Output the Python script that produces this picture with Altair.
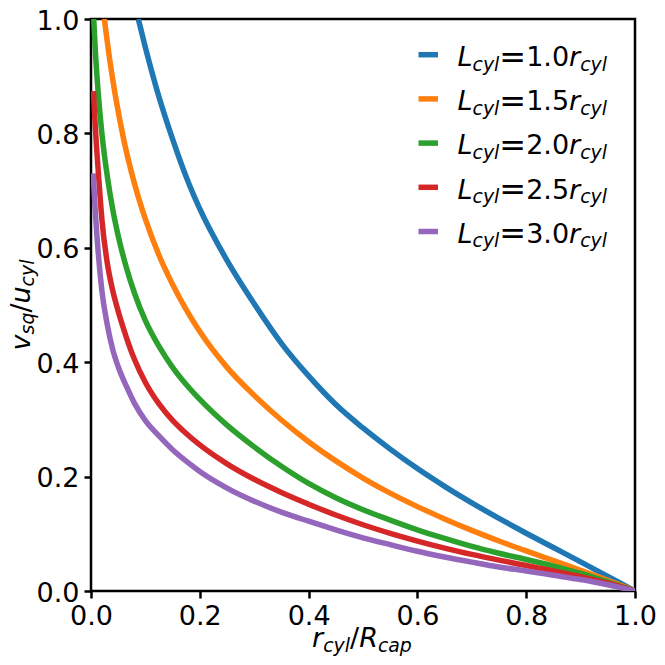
import altair as alt
import pandas as pd

# ---------------- data ----------------
series = ["L=1.0", "L=1.5", "L=2.0", "L=2.5", "L=3.0"]
ratios = ["1.0", "1.5", "2.0", "2.5", "3.0"]
colors = ["#1f77b4", "#ff7f0e", "#2ca02c", "#d62728", "#9467bd"]

x_blue = [0.087, 0.10, 0.12, 0.15, 0.18, 0.20, 0.25, 0.30, 0.35, 0.40, 0.45, 0.50,
          0.55, 0.60, 0.65, 0.70, 0.75, 0.80, 0.85, 0.90, 0.95, 1.00]
y_blue = [1.000, 0.950, 0.880, 0.790, 0.712, 0.668, 0.578, 0.502, 0.433, 0.376, 0.326, 0.285,
          0.248, 0.214, 0.183, 0.154, 0.127, 0.101, 0.076, 0.051, 0.0255, 0.000]

x_orange = [0.0245, 0.035, 0.045, 0.06, 0.08, 0.10, 0.125, 0.15, 0.175, 0.20, 0.25, 0.30, 0.35,
            0.40, 0.45, 0.50, 0.55, 0.60, 0.65, 0.70, 0.75, 0.80, 0.85, 0.90, 0.95, 1.00]
y_orange = [1.000, 0.925, 0.865, 0.790, 0.712, 0.650, 0.587, 0.536, 0.492, 0.4535, 0.391, 0.342, 0.299,
            0.261, 0.2275, 0.1975, 0.171, 0.1475, 0.126, 0.106, 0.0875, 0.070, 0.053, 0.036, 0.0185, 0.000]

x_green = [0.005, 0.008, 0.013, 0.02, 0.03, 0.04, 0.05, 0.065, 0.08, 0.10, 0.125, 0.15, 0.175, 0.20,
           0.25, 0.30, 0.35, 0.40, 0.45, 0.50, 0.55, 0.60, 0.65, 0.70, 0.75, 0.80, 0.85, 0.90, 0.95, 1.00]
y_green = [1.000, 0.944, 0.874, 0.800, 0.725, 0.667, 0.621, 0.5655, 0.5205, 0.4725, 0.4275, 0.391, 0.361, 0.335,
           0.290, 0.252, 0.218, 0.188, 0.163, 0.142, 0.124, 0.107, 0.092, 0.078, 0.066, 0.055, 0.0435, 0.031, 0.016, 0.000]

x_red = [0.0045, 0.007, 0.01, 0.015, 0.02, 0.03, 0.04, 0.05, 0.065, 0.08, 0.10, 0.125, 0.15, 0.175, 0.20,
         0.25, 0.30, 0.35, 0.40, 0.45, 0.50, 0.55, 0.60, 0.65, 0.70, 0.75, 0.80, 0.85, 0.90, 0.95, 1.00]
y_red = [0.874, 0.827, 0.779, 0.7116, 0.650, 0.573, 0.525, 0.489, 0.4436, 0.4046, 0.3646, 0.3271, 0.2983, 0.2753, 0.2553,
         0.2223, 0.1953, 0.1723, 0.1518, 0.1328, 0.1158, 0.1008, 0.0873, 0.075, 0.064, 0.054, 0.0445, 0.035, 0.025, 0.0135, 0.000]

x_purple = [0.004, 0.008, 0.013, 0.02, 0.03, 0.04, 0.05, 0.065, 0.08, 0.10, 0.125, 0.15, 0.175, 0.20,
            0.25, 0.30, 0.35, 0.40, 0.45, 0.50, 0.55, 0.60, 0.65, 0.70, 0.75, 0.80, 0.85, 0.90, 0.95, 1.00]
y_purple = [0.730, 0.662, 0.595, 0.525, 0.465, 0.422, 0.392, 0.358, 0.328, 0.298, 0.271, 0.247, 0.227, 0.209,
            0.180, 0.157, 0.138, 0.122, 0.107, 0.093, 0.081, 0.0695, 0.0595, 0.0505, 0.042, 0.035, 0.0275, 0.020, 0.011, 0.000]

x_ticks = [0.0, 0.2, 0.4, 0.6, 0.8, 1.0]
y_ticks = [0.0, 0.2, 0.4, 0.6, 0.8, 1.0]

rows = []
for name, xs, ys in zip(series,
                        [x_blue, x_orange, x_green, x_red, x_purple],
                        [y_blue, y_orange, y_green, y_red, y_purple]):
    for i, (a, b) in enumerate(zip(xs, ys)):
        rows.append({"series": name, "order": i, "x": a, "y": b})
df = pd.DataFrame(rows)

# ---------------- layout ----------------
W, H = 544, 572
PAD = {"left": 83, "top": 11, "right": 22, "bottom": 66}
FONT = "DejaVu Sans"
F_AX = 27
F_LEG = 27
F_EQ = 32
SUB = 0.7
SUB_SHIFT = 4.5
LW = 5.5

# DejaVu Sans advance widths (em)
W_EM = {"L": 0.5571, "c": 0.5498, "y": 0.5918, "l": 0.2778, "=": 0.8379,
        "0": 0.6362, "1": 0.6362, "2": 0.6362, "3": 0.6362, "5": 0.6362,
        ".": 0.3179, "r": 0.4111, "v": 0.5918, "s": 0.5210, "q": 0.6348,
        "/": 0.3369, "u": 0.6338, "R": 0.6948, "a": 0.6128, "p": 0.6348}


def tw(s, size):
    return sum(W_EM.get(ch, 0.6) for ch in s) * size


def math_pieces(parts, F):
    out, pos = [], 0.0
    for text, kind in parts:
        if kind == "space":
            pos += text * F
            continue
        if kind == "sub":
            size, shift, style = F * SUB, SUB_SHIFT, "italic"
        elif kind == "eq":
            size, shift, style = F_EQ, 1.5, "normal"
        elif kind == "rm":
            size, shift, style = F, 0.0, "normal"
        else:
            size, shift, style = F, 0.0, "italic"
        out.append((text, pos, shift, size, style))
        pos += tw(text, size)
    return out, pos


def text_layer(t, x, y, size, style, angle=0):
    return alt.Chart(pd.DataFrame({"t": [t]})).mark_text(
        align="left", baseline="alphabetic", font=FONT, fontSize=size,
        fontStyle=style, color="black", angle=angle
    ).encode(x=alt.value(x), y=alt.value(y), text="t:N")


color_scale = alt.Scale(domain=series, range=colors)

lines = alt.Chart(df).mark_line(
    strokeWidth=LW, clip=True, strokeCap="butt", interpolate="monotone"
).encode(
    x=alt.X("x:Q", scale=alt.Scale(domain=[0, 1], nice=False),
            axis=alt.Axis(values=x_ticks, format=".1f", title="", labelFlush=False,
                          labelOverlap=False, labelPadding=5)),
    y=alt.Y("y:Q", scale=alt.Scale(domain=[0, 1], nice=False),
            axis=alt.Axis(values=y_ticks, format=".1f", title="", labelOverlap=False,
                          labelPadding=5, labelOffset=2)),
    color=alt.Color("series:N", scale=color_scale, legend=None),
    order="order:Q",
)

layers = [lines]

# x-axis title  r_cyl / R_cap
xparts = [("r", "it"), ("cyl", "sub"), ("/", "rm"), ("R", "it"), ("cap", "sub")]
pcs, total = math_pieces(xparts, F_AX)
x0 = W / 2 - total / 2 - 1
base = 628
for t, dx, dy, size, style in pcs:
    layers.append(text_layer(t, x0 + dx, base + dy, size, style))

# y-axis title  v_sq / u_cyl (rotated)
yparts = [("v", "it"), ("sq", "sub"), ("/", "rm"), ("u", "it"), ("cyl", "sub")]
pcs, total = math_pieces(yparts, F_AX)
ybase_x = -61.5
ystart = 286 + total / 2
for t, dx, dy, size, style in pcs:
    layers.append(text_layer(t, ybase_x + dy, ystart - dx, size, style, angle=270))

# legend
for i, (name, ratio) in enumerate(zip(series, ratios)):
    yc = 35.7 + 44.2 * i
    sw = alt.Chart(pd.DataFrame({"series": [name]})).mark_rule(
        strokeWidth=LW, strokeCap="butt"
    ).encode(
        x=alt.value(327.5), x2=alt.value(347.0), y=alt.value(yc),
        color=alt.Color("series:N", scale=color_scale, legend=None),
    )
    layers.append(sw)
    lparts = [("L", "it"), ("cyl", "sub"), ("=", "eq"),
              (ratio, "rm"), ("r", "it"), ("cyl", "sub")]
    pcs, total = math_pieces(lparts, F_LEG)
    for t, dx, dy, size, style in pcs:
        layers.append(text_layer(t, 366.5 + dx, yc + 11.3 + dy, size, style))

chart = alt.layer(*layers).properties(
    width=W, height=H, padding=PAD, autosize=alt.AutoSizeParams(type="none")
).configure_view(
    stroke="black", strokeWidth=2.5
).configure_axis(
    labelFont=FONT, labelFontSize=F_AX, labelColor="black",
    tickColor="black", tickWidth=2.5, tickSize=7, domain=False, grid=False,
)

chart.save("out.html", embed_options={"renderer": "svg", "actions": False})
